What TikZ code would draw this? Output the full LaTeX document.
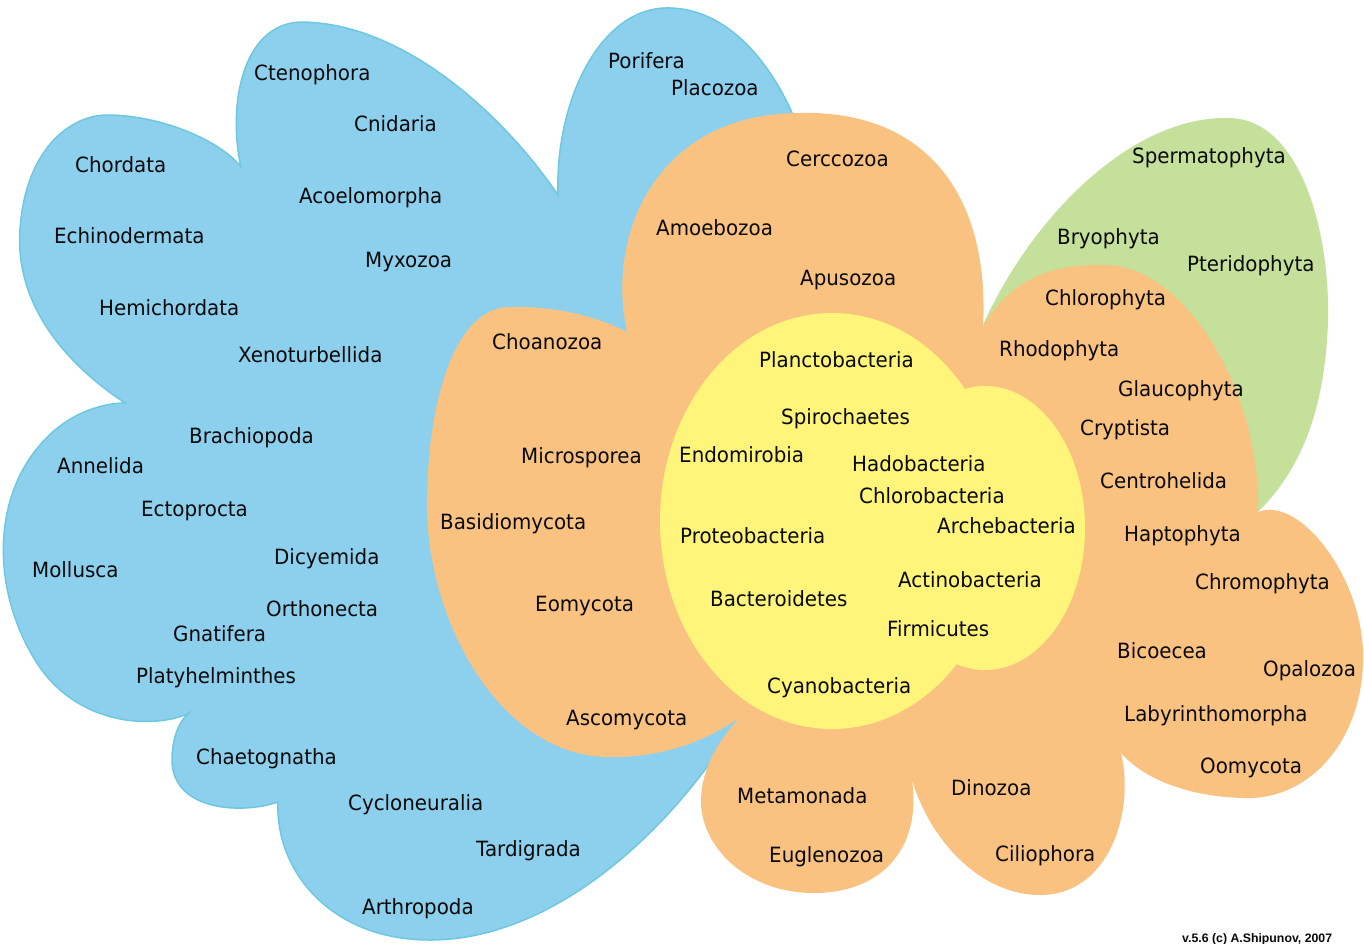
\documentclass[tikz,border=0pt]{standalone}
\usepackage{fontspec}
\setmainfont{DejaVu Sans}[FakeStretch=0.945]
\newfontfamily\creditfont{Liberation Sans}
\definecolor{bluefill}{RGB}{140,208,238}
\definecolor{blueline}{RGB}{110,200,222}
\definecolor{orangefill}{RGB}{249,194,129}
\definecolor{yellowfill}{RGB}{255,245,122}
\definecolor{greenfill}{RGB}{196,224,155}
\definecolor{txt}{RGB}{10,10,10}
\tikzset{
  lbl/.style={anchor=west, inner sep=0pt, text height=15.3pt, text depth=0pt,
    font=\fontsize{21}{21}\selectfont, text=txt},
  credit/.style={anchor=base west, inner sep=0pt, text=txt,
    font=\creditfont\bfseries\fontsize{12.3}{12.3}\selectfont}
}
\begin{document}
\begin{tikzpicture}[x=1pt,y=-1pt]
\useasboundingbox (0,0) rectangle (1364,943);
\clip (0,0) rectangle (1364,943);
\fill[white] (0,0) rectangle (1364,943);

% blue (animals)
\filldraw[fill=bluefill, draw=blueline, line width=1.5pt]
  (241,167) .. controls (228,110) and (240,25) .. (300,22)
  .. controls (400,22) and (500,110) .. (558,195)
  .. controls (555,100) and (600,10) .. (665,8)
  .. controls (730,6) and (775,70) .. (795,120)
  -- (850,300) -- (760,700) -- (740,717)
  .. controls (680,820) and (560,940) .. (430,940)
  .. controls (330,940) and (275,870) .. (278,802)
  .. controls (240,815) and (172,810) .. (172,760)
  .. controls (172,740) and (178,722) .. (189,713)
  .. controls (160,728) and (78,730) .. (35,660)
  .. controls (-8,590) and (-8,500) .. (40,445)
  .. controls (65,415) and (100,403) .. (125,403)
  .. controls (60,360) and (15,300) .. (20,230)
  .. controls (25,150) and (70,115) .. (107,115)
  .. controls (160,115) and (220,140) .. (241,167) -- cycle;

% green (plants)
\fill[greenfill]
  (983,325) .. controls (1030,220) and (1130,115) .. (1230,118)
  .. controls (1300,120) and (1330,230) .. (1328,320)
  .. controls (1325,420) and (1295,475) .. (1258,512)
  -- (1120,420) -- cycle;

% orange (protists)
\fill[orangefill]
  (627,332) .. controls (605,230) and (660,113) .. (800,113)
  .. controls (930,110) and (990,200) .. (983,327)
  .. controls (1010,280) and (1050,263) .. (1107,265)
  .. controls (1190,268) and (1262,400) .. (1258,512)
  .. controls (1300,495) and (1365,580) .. (1363,660)
  .. controls (1362,740) and (1310,800) .. (1245,798)
  .. controls (1190,797) and (1145,780) .. (1121,753)
  .. controls (1135,810) and (1110,895) .. (1040,895)
  .. controls (980,895) and (930,840) .. (912,780)
  .. controls (922,850) and (880,893) .. (814,893)
  .. controls (745,893) and (700,845) .. (701,800)
  .. controls (702,765) and (720,740) .. (739,718)
  .. controls (700,745) and (655,758) .. (607,757)
  .. controls (500,755) and (425,620) .. (427,500)
  .. controls (428,400) and (455,307) .. (510,307)
  .. controls (560,306) and (600,318) .. (627,332) -- cycle;

% yellow (bacteria)
\fill[yellowfill] (832,521) ellipse [x radius=172, y radius=208];
\fill[yellowfill] (985,528) ellipse [x radius=100, y radius=142];

% blue labels
\node[lbl] (cteno) at (254,73) {Ctenophora};
\node[lbl] (cnid) at (354,124) {Cnidaria};
\node[lbl] (chord) at (75,165) {Chordata};
\node[lbl] (acoel) at (299,196) {Acoelomorpha};
\node[lbl] (echin) at (54,236) {Echinodermata};
\node[lbl] (myxo) at (365,260) {Myxozoa};
\node[lbl] (hemi) at (99,308) {Hemichordata};
\node[lbl] (xeno) at (238,355) {Xenoturbellida};
\node[lbl] (brach) at (189,436) {Brachiopoda};
\node[lbl] (annel) at (57,466) {Annelida};
\node[lbl] (ecto) at (141,509) {Ectoprocta};
\node[lbl] (moll) at (32,570) {Mollusca};
\node[lbl] (dicy) at (274,557) {Dicyemida};
\node[lbl] (ortho) at (266,609) {Orthonecta};
\node[lbl] (gnat) at (173,634) {Gnatifera};
\node[lbl] (platy) at (136,676) {Platyhelminthes};
\node[lbl] (chaet) at (196,757) {Chaetognatha};
\node[lbl] (cyclo) at (348,803) {Cycloneuralia};
\node[lbl] (tardi) at (476,849) {Tardigrada};
\node[lbl] (arthr) at (362,907) {Arthropoda};
\node[lbl] (porif) at (608,61) {Porifera};
\node[lbl] (placo) at (671,88) {Placozoa};

% orange labels
\node[lbl] (cercc) at (786,159) {Cerccozoa};
\node[lbl] (amoeb) at (656,228) {Amoebozoa};
\node[lbl] (apus) at (800,278) {Apusozoa};
\node[lbl] (choan) at (492,342) {Choanozoa};
\node[lbl] (micro) at (521,456) {Microsporea};
\node[lbl] (basid) at (440,522) {Basidiomycota};
\node[lbl] (eomy) at (535,604) {Eomycota};
\node[lbl] (ascom) at (566,718) {Ascomycota};
\node[lbl] (metam) at (737,796) {Metamonada};
\node[lbl] (eugle) at (769,855) {Euglenozoa};
\node[lbl] (dino) at (951,788) {Dinozoa};
\node[lbl] (cilio) at (995,854) {Ciliophora};
\node[lbl] (chlph) at (1045,298) {Chlorophyta};
\node[lbl] (rhodo) at (999,349) {Rhodophyta};
\node[lbl] (glauc) at (1118,389) {Glaucophyta};
\node[lbl] (crypt) at (1080,428) {Cryptista};
\node[lbl] (centr) at (1100,481) {Centrohelida};
\node[lbl] (hapto) at (1124,534) {Haptophyta};
\node[lbl] (chrom) at (1195,582) {Chromophyta};
\node[lbl] (bicoe) at (1117,651) {Bicoecea};
\node[lbl] (opalo) at (1263,669) {Opalozoa};
\node[lbl] (labyr) at (1124,714) {Labyrinthomorpha};
\node[lbl] (oomy) at (1200,766) {Oomycota};

% green labels
\node[lbl] (sperm) at (1132,156) {Spermatophyta};
\node[lbl] (bryo) at (1057,237) {Bryophyta};
\node[lbl] (pteri) at (1187,264) {Pteridophyta};

% yellow labels
\node[lbl] (planc) at (759,360) {Planctobacteria};
\node[lbl] (spiro) at (781,417) {Spirochaetes};
\node[lbl] (endom) at (679,455) {Endomirobia};
\node[lbl] (hadob) at (852,464) {Hadobacteria};
\node[lbl] (chlob) at (859,496) {Chlorobacteria};
\node[lbl] (arche) at (937,526) {Archebacteria};
\node[lbl] (prote) at (680,536) {Proteobacteria};
\node[lbl] (actin) at (898,580) {Actinobacteria};
\node[lbl] (bacte) at (710,599) {Bacteroidetes};
\node[lbl] (firmi) at (887,629) {Firmicutes};
\node[lbl] (cyano) at (767,686) {Cyanobacteria};

% credit
\node[credit] (cred) at (1182,942) {v.5.6 (c) A.Shipunov, 2007};
\end{tikzpicture}
\end{document}
